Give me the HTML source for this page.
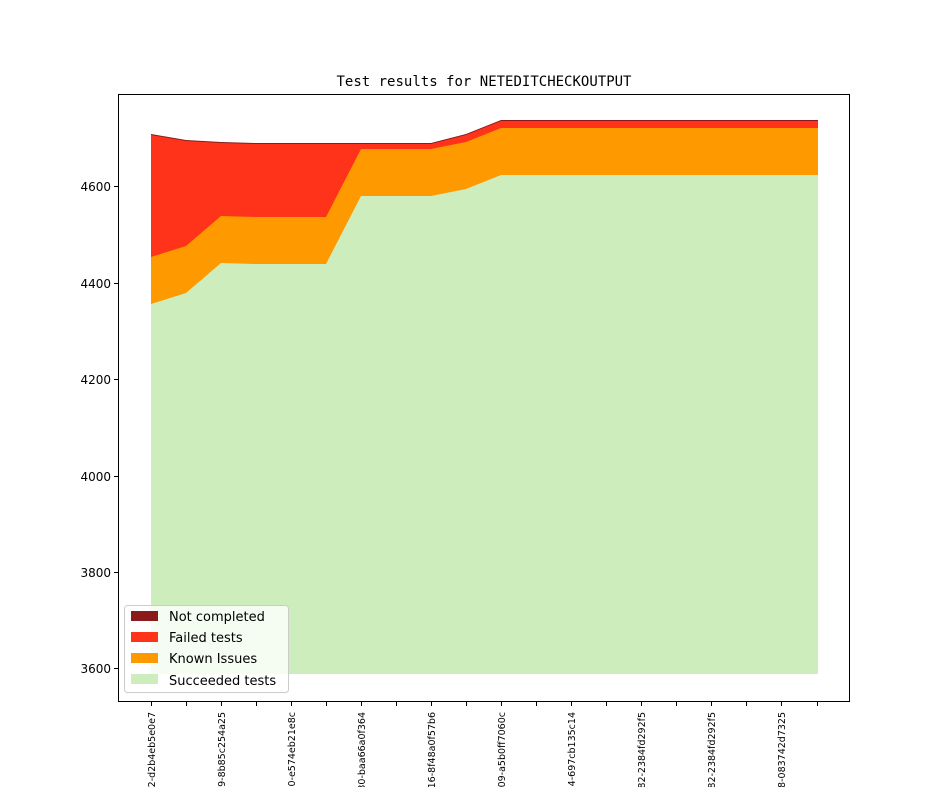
<!DOCTYPE html>
<html><head><style>body{margin:0;background:#fff;overflow:hidden}</style></head><body>
<svg width="944" height="787" xmlns="http://www.w3.org/2000/svg" font-family="DejaVu Sans, Liberation Sans, sans-serif">
<rect width="944" height="787" fill="#fff"/>
<text x="484" y="86" font-size="14" text-anchor="middle" font-family="DejaVu Sans Mono, Liberation Mono, monospace">Test results for NETEDITCHECKOUTPUT</text>
<polygon fill="#8b1a1a" points="151,134 186,140 221,142 256,143 431,143 466,134 501,120 818,120 818,122 501,122 466,136 431,145 256,145 221,144 186,142 151,136"/>
<polygon fill="#ff331a" points="151,135 186,141 221,143 256,144 431,144 466,135 501,121 818,121 818,674 151,674"/>
<polygon fill="#ff9900" points="151,257 186,246 221,216 256,217 326,217 361,149 431,149 466,142 501,128 818,128 818,674 151,674"/>
<polygon fill="#ceedbd" points="151,304 186,293 221,263 256,264 326,264 361,196 431,196 466,189 501,175 818,175 818,674 151,674"/>
<rect x="118.5" y="94.5" width="731" height="607" fill="none" stroke="#000" stroke-width="1"/>
<g stroke="#000" stroke-width="1">
<line x1="118" y1="186.5" x2="114" y2="186.5"/><line x1="118" y1="283.5" x2="114" y2="283.5"/><line x1="118" y1="379.5" x2="114" y2="379.5"/><line x1="118" y1="476.5" x2="114" y2="476.5"/><line x1="118" y1="572.5" x2="114" y2="572.5"/><line x1="118" y1="668.5" x2="114" y2="668.5"/>
</g>
<g font-size="12" text-anchor="end">
<text x="111" y="191">4600</text><text x="111" y="288">4400</text><text x="111" y="384">4200</text><text x="111" y="481">4000</text><text x="111" y="577">3800</text><text x="111" y="673">3600</text>
</g>
<g stroke="#000" stroke-width="1">
<line x1="151.5" y1="702" x2="151.5" y2="706"/><line x1="186.5" y1="702" x2="186.5" y2="706"/><line x1="221.5" y1="702" x2="221.5" y2="706"/><line x1="256.5" y1="702" x2="256.5" y2="706"/><line x1="291.5" y1="702" x2="291.5" y2="706"/><line x1="326.5" y1="702" x2="326.5" y2="706"/><line x1="361.5" y1="702" x2="361.5" y2="706"/><line x1="396.5" y1="702" x2="396.5" y2="706"/><line x1="431.5" y1="702" x2="431.5" y2="706"/><line x1="466.5" y1="702" x2="466.5" y2="706"/><line x1="501.5" y1="702" x2="501.5" y2="706"/><line x1="536.5" y1="702" x2="536.5" y2="706"/><line x1="571.5" y1="702" x2="571.5" y2="706"/><line x1="606.5" y1="702" x2="606.5" y2="706"/><line x1="641.5" y1="702" x2="641.5" y2="706"/><line x1="676.5" y1="702" x2="676.5" y2="706"/><line x1="711.5" y1="702" x2="711.5" y2="706"/><line x1="746.5" y1="702" x2="746.5" y2="706"/><line x1="781.5" y1="702" x2="781.5" y2="706"/><line x1="817.5" y1="702" x2="817.5" y2="706"/>
</g>
<g font-size="9.5" text-anchor="end">
<text transform="translate(155,712) rotate(-90)">aa92-d2b4eb5e0e7</text>
<text transform="translate(225,712) rotate(-90)">aa19-8b85c254a25</text>
<text transform="translate(295,712) rotate(-90)">aa90-e574eb21e8c</text>
<text transform="translate(365,712) rotate(-90)">aa30-baa66a0f364</text>
<text transform="translate(435,712) rotate(-90)">aa16-8f48a0f57b6</text>
<text transform="translate(505,712) rotate(-90)">aa09-a5b0ff7060c</text>
<text transform="translate(575,712) rotate(-90)">aa34-697cb135c14</text>
<text transform="translate(645,712) rotate(-90)">aa82-2384fd292f5</text>
<text transform="translate(715,712) rotate(-90)">aa82-2384fd292f5</text>
<text transform="translate(785,712) rotate(-90)">aa38-083742d7325</text>
</g>
<rect x="124.5" y="605.5" width="164" height="87" rx="3" fill="#fff" fill-opacity="0.8" stroke="#ccc"/>
<rect x="131" y="611" width="27" height="10" fill="#8b1a1a"/>
<rect x="131" y="632" width="27" height="10" fill="#ff331a"/>
<rect x="131" y="653" width="27" height="10" fill="#ff9900"/>
<rect x="131" y="674" width="27" height="10" fill="#ceedbd"/>
<g font-size="13">
<text x="169" y="621">Not completed</text>
<text x="169" y="642">Failed tests</text>
<text x="169" y="663">Known Issues</text>
<text x="169" y="685">Succeeded tests</text>
</g>
</svg>
</body></html>
